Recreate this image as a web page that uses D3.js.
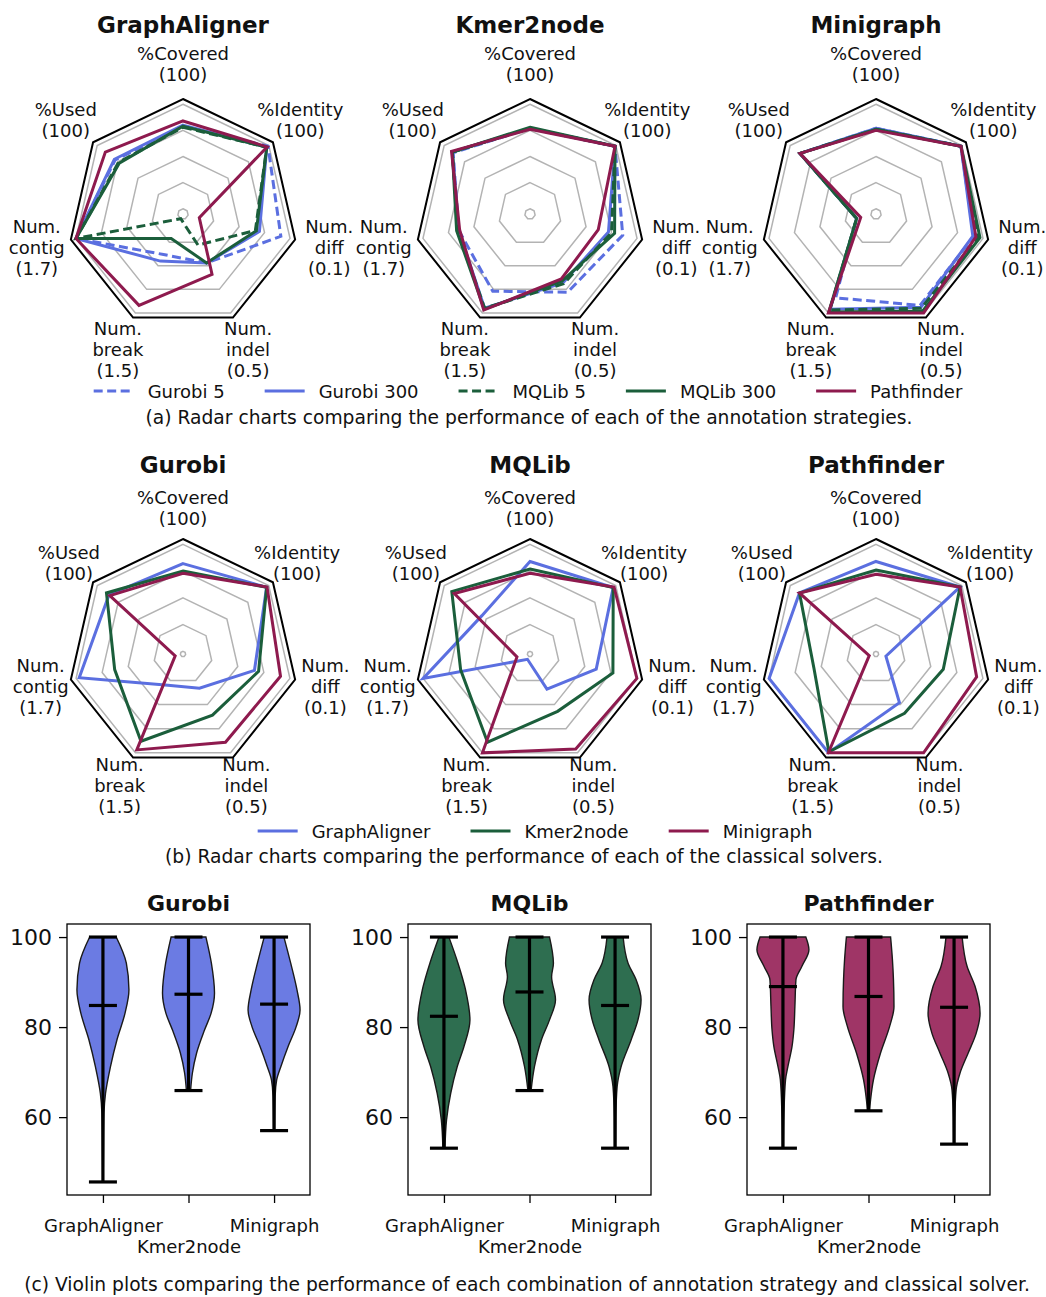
<!DOCTYPE html>
<html>
<head>
<meta charset="utf-8">
<script src="https://cdn.jsdelivr.net/npm/d3@7"></script>
<style>
  body { margin: 0; background: #fff; }
  text { font-family: "DejaVu Sans", sans-serif; fill: #111; }
</style>
</head>
<body>
<svg id="fig" width="1046" height="1297"></svg>
<script>
// ---- data ----
const axisLabels = [
  ["%Covered", "(100)"],
  ["%Identity", "(100)"],
  ["Num.", "diff", "(0.1)"],
  ["Num.", "indel", "(0.5)"],
  ["Num.", "break", "(1.5)"],
  ["Num.", "contig", "(1.7)"],
  ["%Used", "(100)"]
];

const strategies = ["Gurobi 5", "Gurobi 300", "MQLib 5", "MQLib 300", "Pathfinder"];
const assemblers = ["GraphAligner", "Kmer2node", "Minigraph"];
const solvers = ["Gurobi", "MQLib", "Pathfinder"];

// (a) one row per strategy, normalised score per axis
const radarGraphAligner = [
  [0.79, 0.99, 0.91, 0.47, 0.38, 1.00, 0.78],
  [0.80, 0.975, 0.70, 0.47, 0.45, 1.00, 0.79],
  [0.78, 0.975, 0.66, 0.28, 0.00, 1.00, 0.74],
  [0.79, 0.975, 0.67, 0.47, 0.21, 1.00, 0.73],
  [0.84, 0.98, 0.11, 0.59, 0.92, 1.00, 0.90]
];
const radarKmer2node = [
  [0.77, 0.99, 0.86, 0.78, 0.77, 0.65, 0.89],
  [0.77, 0.99, 0.72, 0.68, 0.95, 0.65, 0.90],
  [0.77, 0.99, 0.75, 0.69, 0.95, 0.66, 0.90],
  [0.78, 0.99, 0.78, 0.66, 0.96, 0.67, 0.90],
  [0.76, 0.99, 0.62, 0.64, 0.97, 0.64, 0.91]
];
const radarMinigraph = [
  [0.77, 0.99, 0.91, 0.92, 0.84, 0.14, 0.88],
  [0.77, 0.99, 0.90, 0.94, 0.96, 0.14, 0.88],
  [0.76, 0.99, 0.95, 0.95, 0.97, 0.14, 0.88],
  [0.76, 0.99, 0.97, 0.98, 0.99, 0.14, 0.88],
  [0.75, 0.99, 0.93, 1.00, 1.00, 0.10, 0.88]
];

// (b) one row per assembler
const radarGurobi = [
  [0.82, 0.975, 0.66, 0.33, 0.30, 0.97, 0.86],
  [0.75, 0.975, 0.70, 0.61, 0.88, 0.63, 0.89],
  [0.73, 0.98, 0.91, 0.89, 0.97, 0.05, 0.85]
];
const radarMQLib = [
  [0.84, 0.97, 0.61, 0.34, 0.03, 1.00, 0.55],
  [0.77, 0.97, 0.77, 0.57, 0.89, 0.64, 0.91],
  [0.73, 0.98, 1.00, 0.96, 1.00, 0.10, 0.88]
];
const radarPathfinder = [
  [0.84, 0.98, 0.07, 0.48, 1.00, 1.00, 0.89],
  [0.76, 0.98, 0.62, 0.59, 0.99, 0.57, 0.89],
  [0.72, 0.98, 0.94, 1.00, 1.00, 0.04, 0.89]
];

// (c) violin outlines: [value, relative density], read top to bottom
const violinGurobi = [
  [[100, 0.51], [94.2, 0.9], [88.3, 1.0], [83.1, 0.85], [77.2, 0.54], [71.2, 0.29], [65.3, 0.1], [60.9, 0.04], [52, 0.02], [45.6, 0.01]],
  [[100, 0.67], [94.2, 0.88], [87.6, 1.0], [83.1, 0.87], [79.4, 0.62], [74.2, 0.31], [69.8, 0.15], [65.9, 0.08]],
  [[100, 0.38], [94.2, 0.64], [88.3, 0.88], [83.8, 1.0], [80.1, 0.85], [75.7, 0.54], [71.2, 0.26], [68.3, 0.1], [64.6, 0.04], [57.0, 0.02]]
];
const violinMQLib = [
  [[100, 0.19], [94.2, 0.54], [88.3, 0.83], [81.6, 1.0], [75.7, 0.77], [71.2, 0.51], [65.3, 0.26], [59.4, 0.1], [53.1, 0.04]],
  [[100, 0.77], [94.2, 0.92], [91.2, 0.85], [86.1, 1.0], [81.6, 0.77], [77.2, 0.46], [71.2, 0.19], [65.9, 0.06]],
  [[100, 0.31], [94.2, 0.5], [90.5, 0.81], [86.1, 1.0], [81.6, 0.88], [77.2, 0.62], [71.2, 0.23], [66.8, 0.08], [60, 0.03], [53.1, 0.02]]
];
const violinPathfinder = [
  [[100, 0.88], [97.2, 1.0], [93.5, 0.73], [90.5, 0.5], [84.6, 0.46], [79.4, 0.42], [75.7, 0.35], [71.2, 0.19], [68.3, 0.1], [60.9, 0.04], [53.1, 0.02]],
  [[100, 0.85], [95.0, 0.92], [90.5, 0.96], [84.6, 0.98], [80.1, 0.81], [74.2, 0.46], [68.3, 0.19], [63.9, 0.08], [61.4, 0.04]],
  [[100, 0.31], [93.5, 0.5], [89.0, 0.81], [83.1, 1.0], [78.6, 0.85], [74.2, 0.54], [69.8, 0.23], [66.1, 0.08], [60, 0.03], [54.0, 0.02]]
];
const violinMeans = [[84.8, 87.3, 85.1], [82.4, 87.8, 84.8], [89.0, 86.8, 84.4]];
const violinMins = [[45.6, 65.9, 57.0], [53.1, 65.9, 53.1], [53.1, 61.4, 54.0]];
const violinMaxs = [[100, 100, 100], [100, 100, 100], [100, 100, 100]];
const yTicks = [60, 80, 100];

// ---- styles ----
const blue = "#5b6fe0", green = "#1b5e3b", maroon = "#8e1a4e";
const strategyColor = [blue, blue, green, green, maroon];
const strategyDash = [true, false, true, false, false];
const assemblerColor = [blue, green, maroon];
const violinFill = ["#6b7be3", "#2e6e50", "#9f3566"];

const svg = d3.select("#fig");
svg.append("rect").attr("width", 1046).attr("height", 1297).attr("fill", "#fff");

function drawRadar(cx, cy, title, series, colors, dashes, labelR, rMin) {
    const g = svg.append("g").attr("transform", `translate(${cx},${cy})`);
    const r = d3.scaleLinear().domain([rMin, 1.05]).range([0, 115]);
    const n = axisLabels.length;
    const angle = i => i * 2 * Math.PI / n;
    const ring = v => d3.lineRadial()
        .angle((d, i) => angle(i))
        .radius(() => r(v))
        .curve(d3.curveLinearClosed)(d3.range(n));

    [0, 0.25, 0.5, 0.75, 1.0].forEach(v => {
        g.append("path").attr("d", ring(v))
            .attr("fill", "none").attr("stroke", "#b3b3b3").attr("stroke-width", 1.5);
    });
    g.append("path").attr("d", ring(1.05))
        .attr("fill", "none").attr("stroke", "#000").attr("stroke-width", 2);

    const line = d3.lineRadial()
        .angle((d, i) => angle(i))
        .radius(d => r(d))
        .curve(d3.curveLinearClosed);

    series.forEach((vals, k) => {
        g.append("path")
            .attr("d", line(vals))
            .attr("fill", "none")
            .attr("stroke", colors[k])
            .attr("stroke-width", 3)
            .attr("stroke-linejoin", "miter")
            .attr("stroke-dasharray", dashes[k] ? "9,4.5" : null);
    });

    // axis labels
    axisLabels.forEach((lines, i) => {
        const a = angle(i);
        const lx = labelR * Math.sin(a), ly = -labelR * Math.cos(a);
        const t = g.append("text").attr("text-anchor", "middle").style("font-size", "18px");
        lines.forEach((s, j) => {
            t.append("tspan").attr("x", lx)
                .attr("y", ly + (j - (lines.length - 1) / 2) * 21 + 6.5)
                .text(s);
        });
    });

    g.append("text").attr("x", 0).attr("y", -181)
        .attr("text-anchor", "middle")
        .style("font-size", "23px").style("font-weight", "bold")
        .text(title);
}

function drawLegend(cx, cy, names, colors, dashes) {
    const g = svg.append("g");
    const items = names.map((name, i) => {
        const t = g.append("text").attr("y", cy + 6.5).style("font-size", "18px").text(name);
        return { t, w: t.node().getComputedTextLength(), i };
    });
    const lineW = 40, gap = 14, space = 40;
    const total = d3.sum(items, d => lineW + gap + d.w) + space * (items.length - 1);
    let x = cx - total / 2;
    items.forEach(d => {
        g.append("line").attr("x1", x).attr("x2", x + lineW).attr("y1", cy).attr("y2", cy)
            .attr("stroke", colors[d.i]).attr("stroke-width", 3)
            .attr("stroke-dasharray", dashes[d.i] ? "9,4.5" : null);
        d.t.attr("x", x + lineW + gap);
        x += lineW + gap + d.w + space;
    });
}

function caption(x, y, s) {
    svg.append("text").attr("x", x).attr("y", y).attr("text-anchor", "middle")
        .style("font-size", "18.7px").text(s);
}

// ---- (a) ----
const centersX = [183, 530, 876];
const rowA = [radarGraphAligner, radarKmer2node, radarMinigraph];
assemblers.forEach((name, i) => drawRadar(centersX[i], 214, name, rowA[i], strategyColor, strategyDash, 150, -0.05));
drawLegend(528, 391, strategies, strategyColor, strategyDash);
caption(529, 424, "(a) Radar charts comparing the performance of each of the annotation strategies.");

// ---- (b) ----
const rowB = [radarGurobi, radarMQLib, radarPathfinder];
solvers.forEach((name, i) => drawRadar(centersX[i], 654, name, rowB[i], assemblerColor, [false, false, false], 146, -0.025));
drawLegend(535, 831, assemblers, assemblerColor, [false, false, false]);
caption(524, 863, "(b) Radar charts comparing the performance of each of the classical solvers.");

// ---- (c) ----
const violins = [violinGurobi, violinMQLib, violinPathfinder];
const panelLeft = [67, 408, 747];
const panelW = 243, panelTop = 924, panelBottom = 1195;
const y = d3.scaleLinear().domain([42.7, 102.9]).range([panelBottom, panelTop]);

solvers.forEach((name, p) => {
    const g = svg.append("g").attr("transform", `translate(${panelLeft[p]},0)`);
    const x = d3.scalePoint().domain(assemblers).range([0, panelW]).padding(0.42);
    const halfW = 26;

    violins[p].forEach((prof, k) => {
        const cx = x(assemblers[k]);
        const area = d3.area()
            .y(d => y(d[0]))
            .x0(d => cx - d[1] * halfW)
            .x1(d => cx + d[1] * halfW)
            .curve(d3.curveMonotoneY);
        g.append("path").attr("d", area(prof))
            .attr("fill", violinFill[p]).attr("stroke", "#1a1a1a").attr("stroke-width", 1.4);

        const capW = 14;
        g.append("line").attr("x1", cx).attr("x2", cx)
            .attr("y1", y(violinMins[p][k])).attr("y2", y(violinMaxs[p][k]))
            .attr("stroke", "#000").attr("stroke-width", 3.2);
        [violinMins[p][k], violinMaxs[p][k], violinMeans[p][k]].forEach(v => {
            g.append("line").attr("x1", cx - capW).attr("x2", cx + capW)
                .attr("y1", y(v)).attr("y2", y(v))
                .attr("stroke", "#000").attr("stroke-width", 3.2);
        });
    });

    // frame
    g.append("rect").attr("x", 0).attr("y", panelTop)
        .attr("width", panelW).attr("height", panelBottom - panelTop)
        .attr("fill", "none").attr("stroke", "#000").attr("stroke-width", 1.3);

    // y axis
    const ya = g.append("g").call(d3.axisLeft(y).tickValues(yTicks).tickSize(8).tickPadding(7));
    ya.select(".domain").remove();
    ya.selectAll("line").attr("stroke", "#000").attr("stroke-width", 1.3);
    ya.selectAll("text").style("font-size", "22px").style("font-family", "DejaVu Sans").attr("fill", "#111");

    // x axis, middle label staggered lower
    const xa = g.append("g").attr("transform", `translate(0,${panelBottom})`)
        .call(d3.axisBottom(x).tickSize(8).tickPadding(4));
    xa.select(".domain").remove();
    xa.selectAll("line").attr("stroke", "#000").attr("stroke-width", 1.3);
    xa.selectAll("text").style("font-size", "18px").style("font-family", "DejaVu Sans").attr("fill", "#111")
        .attr("dy", null)
        .attr("y", (d, i) => i === 1 ? 58 : 37);

    g.append("text").attr("x", panelW / 2).attr("y", 911)
        .attr("text-anchor", "middle")
        .style("font-size", "22px").style("font-weight", "bold")
        .text(name);
});

caption(527, 1291, "(c) Violin plots comparing the performance of each combination of annotation strategy and classical solver.");
</script>
</body>
</html>
